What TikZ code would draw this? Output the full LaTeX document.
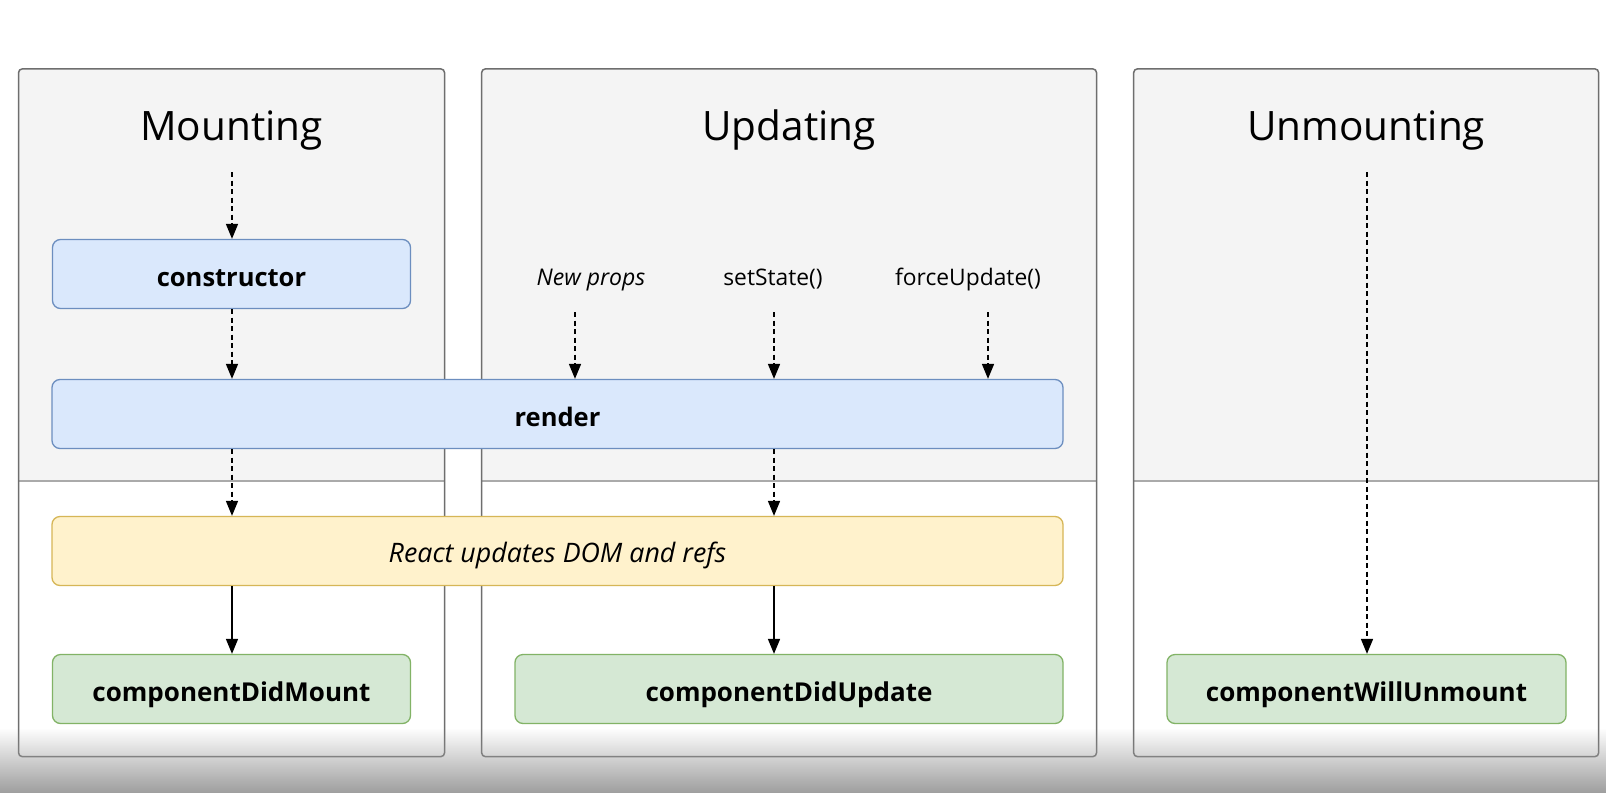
\documentclass[tikz,border=0pt]{standalone}
\usepackage{fontspec}
\setmainfont{Open Sans}
\usetikzlibrary{arrows.meta,fadings}

\definecolor{panelgray}{HTML}{F4F4F4}
\definecolor{panelline}{HTML}{6E6E6E}
\definecolor{splitline}{HTML}{AAAAAA}
\definecolor{bluefill}{HTML}{DAE8FC}
\definecolor{blueline}{HTML}{6C8EBF}
\definecolor{yellowfill}{HTML}{FFF2CC}
\definecolor{yellowline}{HTML}{D6B656}
\definecolor{greenfill}{HTML}{D5E8D4}
\definecolor{greenline}{HTML}{82B366}
\tikzfading[name=fadedown, top color=transparent!100, bottom color=transparent!0]

\begin{document}
\begin{tikzpicture}[x=1pt, y=-1pt,
    phase/.style={font=\fontsize{40.5}{48}\selectfont, anchor=base},
    call/.style={font=\fontsize{22.8}{27}\selectfont, anchor=base},
    box/.style={rounded corners=8pt, line width=1.3pt, minimum height=69pt, inner sep=0pt},
    bluebox/.style={box, draw=blueline, fill=bluefill, text height=24pt, text depth=0pt,
      font=\bfseries\fontsize{25.5}{30}\selectfont},
    yellowbox/.style={box, draw=yellowline, fill=yellowfill, text height=23pt, text depth=0pt,
      font=\itshape\fontsize{26.8}{32}\selectfont},
    greenbox/.style={box, draw=greenline, fill=greenfill, text height=24pt, text depth=0pt,
      font=\bfseries\fontsize{26}{31}\selectfont},
    dasharrow/.style={line width=1.6pt, dash pattern=on 5pt off 3.5pt, -{Triangle[width=12pt,length=15pt]}},
    solidarrow/.style={line width=1.6pt, -{Triangle[width=12pt,length=15pt]}}]
  \useasboundingbox (0,0) rectangle (1610,793);
  \fill[white] (0,0) rectangle (1610,793);

  % the three phases
  \foreach \xa/\xb/\ph in {18.5/444.6/Mounting, 481.6/1096.6/Updating, 1133.6/1598.7/Unmounting} {
    \begin{scope}
      \clip[rounded corners=4pt] (\xa,68.8) rectangle (\xb,756.7);
      \fill[panelgray] (\xa,68.8) rectangle (\xb,481);
    \end{scope}
    \draw[splitline, line width=1.3pt] (\xa,481) -- (\xb,481);
    \draw[panelline, line width=1.5pt, rounded corners=4pt] (\xa,68.8) rectangle (\xb,756.7);
    \node[phase] (\ph) at ({(\xa+\xb)/2},140) {\ph};
  }

  % lifecycle methods
  \node[bluebox, minimum width=358pt] (constructor) at (231.5,274) {constructor};
  \node[bluebox, minimum width=1011pt] (render) at (557.5,414) {render};
  \node[yellowbox, minimum width=1011pt] (react) at (557.5,551) {React updates DOM and refs};
  \node[greenbox, minimum width=358pt] (didmount) at (231.5,689) {componentDidMount};
  \node[greenbox, minimum width=548pt] (didupdate) at (789,689) {componentDidUpdate};
  \node[greenbox, minimum width=399pt] (willunmount) at (1366.5,689) {componentWillUnmount};

  % triggers of an update
  \node[call, font=\itshape\fontsize{23}{27}\selectfont] (newprops) at (591,285) {New props};
  \node[call] (setstate) at (773,285) {setState()};
  \node[call] (forceupdate) at (968,285) {forceUpdate()};

  \coordinate (mstart) at (232,172);
  \coordinate (npstart) at (575,312);
  \coordinate (ssstart) at (774,312);
  \coordinate (fustart) at (988,312);
  \coordinate (ustart) at (1367,172);
  \coordinate (colA) at (232,0);
  \coordinate (colB) at (774,0);

  \draw[dasharrow] (mstart) -- (constructor.north -| mstart);
  \draw[dasharrow] (constructor.south -| colA) -- (render.north -| colA);
  \draw[dasharrow] (npstart) -- (render.north -| npstart);
  \draw[dasharrow] (ssstart) -- (render.north -| ssstart);
  \draw[dasharrow] (fustart) -- (render.north -| fustart);
  \draw[dasharrow] (render.south -| colA) -- (react.north -| colA);
  \draw[dasharrow] (render.south -| colB) -- (react.north -| colB);
  \draw[solidarrow] (react.south -| colA) -- (didmount.north -| colA);
  \draw[solidarrow] (react.south -| colB) -- (didupdate.north -| colB);
  \draw[dasharrow] (ustart) -- (willunmount.north -| ustart);

  % grey fade at the bottom
  \fill[black!38, path fading=fadedown] (0,728) rectangle (1610,793);
\end{tikzpicture}
\end{document}
